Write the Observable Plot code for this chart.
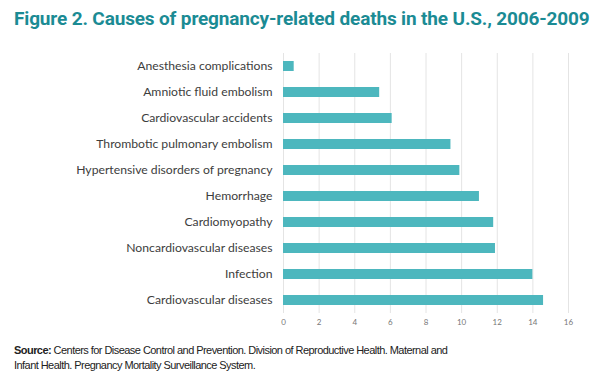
<!DOCTYPE html>
<html>
<head>
<meta charset="utf-8">
<script src="https://cdn.jsdelivr.net/npm/d3@7"></script>
<script src="https://cdn.jsdelivr.net/npm/@observablehq/plot@0.6"></script>
<style>
  html, body { margin: 0; padding: 0; background: #fff; }
  #wrap { width: 600px; height: 385px; position: relative; overflow: hidden; }
  #title { position: absolute; left: 14px; top: 7px; font-family: Roboto, sans-serif; font-weight: 700; font-size: 19px; color: #1b8b94; letter-spacing: -0.15px; white-space: nowrap; }
  #chart { position: absolute; left: 0; top: 40px; }
  #caption { position: absolute; left: 14px; top: 343px; width: 570px; font-family: "Liberation Sans", Arial, sans-serif; font-size: 11px; line-height: 15px; color: #222; letter-spacing: -0.55px; }
</style>
</head>
<body>
<div id="wrap">
  <div id="title">Figure 2. Causes of pregnancy-related deaths in the U.S., 2006-2009</div>
  <div id="chart"></div>
  <div id="caption"><b>Source:</b> Centers for Disease Control and Prevention. Division of Reproductive Health. Maternal and<br>Infant Health. Pregnancy Mortality Surveillance System.</div>
</div>
<script>
const causes = [
  "Anesthesia complications",
  "Amniotic fluid embolism",
  "Cardiovascular accidents",
  "Thrombotic pulmonary embolism",
  "Hypertensive disorders of pregnancy",
  "Hemorrhage",
  "Cardiomyopathy",
  "Noncardiovascular diseases",
  "Infection",
  "Cardiovascular diseases"
];
const values = [0.6, 5.4, 6.1, 9.4, 9.9, 11.0, 11.8, 11.9, 14.0, 14.6];
const xTicks = [0, 2, 4, 6, 8, 10, 12, 14, 16];

const data = causes.map((c, i) => ({cause: c, value: values[i]}));

const chart = Plot.plot({
  width: 600,
  height: 300,
  marginLeft: 283,
  marginRight: 32,
  marginTop: 13,
  marginBottom: 27,
  style: {fontFamily: "Lato, sans-serif", background: "transparent"},
  x: {domain: [0, 16], ticks: xTicks, label: null},
  y: {domain: causes, label: null, paddingInner: 0.6, paddingOuter: 0.3},
  marks: [
    Plot.gridX(xTicks, {stroke: "#e4e4e4", strokeOpacity: 1, strokeWidth: 1}),
    Plot.barX(data, {x: "value", y: "cause", fill: "#4db7be"}),
    Plot.axisX({ticks: xTicks, tickSize: 0, tickPadding: 6, fontSize: 8, fill: "#777", label: null}),
    Plot.axisY({tickSize: 0, tickPadding: 11, fontSize: 12.2, fill: "#3d3d3d", label: null})
  ]
});
document.getElementById("chart").appendChild(chart);
</script>
</body>
</html>
